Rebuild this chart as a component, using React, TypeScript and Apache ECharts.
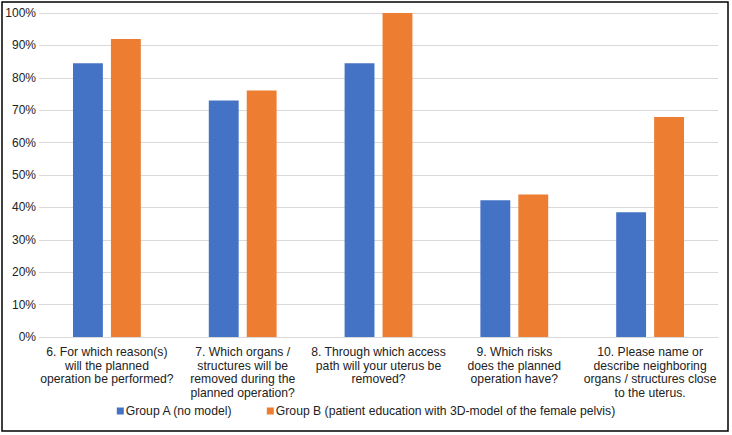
import React, { useEffect, useRef } from "react";
import * as echarts from "echarts";

const categories = [
  "6. For which reason(s)\nwill the planned\noperation be performed?",
  "7. Which organs /\nstructures will be\nremoved during the\nplanned operation?",
  "8. Through which access\npath will your uterus be\nremoved?",
  "9. Which risks\ndoes the planned\noperation have?",
  "10. Please name or\ndescribe neighboring\norgans / structures close\nto the uterus.",
];
const groupA = [84.5, 73.0, 84.5, 42.2, 38.5];
const groupB = [92.0, 76.1, 100, 44.0, 67.9];
const seriesNames = [
  "Group A (no model)",
  "Group B (patient education with 3D-model of the female pelvis)",
];

const FONT = "'Liberation Sans', Arial, sans-serif";

export default function App() {
  const ref = useRef<HTMLDivElement>(null);
  useEffect(() => {
    document.body.style.margin = "0";
    const chart = echarts.init(ref.current!, null, { renderer: "svg" });
    chart.setOption({
      animation: false,
      textStyle: { fontFamily: FONT },
      grid: { left: 39, right: 14, top: 13, bottom: 98, containLabel: false },
      legend: {
        bottom: 13,
        left: "center",
        itemWidth: 7,
        itemHeight: 7,
        itemGap: 34,
        icon: "rect",
        textStyle: { fontSize: 12.2, color: "#222", fontFamily: FONT, padding: [0, 0, 0, -3] },
        data: seriesNames,
      },
      xAxis: {
        type: "category",
        data: categories,
        axisLine: { lineStyle: { color: "#d9d9d9", width: 1 } },
        axisTick: { show: false },
        axisLabel: {
          interval: 0,
          fontSize: 12.2,
          lineHeight: 13.7,
          color: "#222",
          margin: 8,
          fontFamily: FONT,
        },
      },
      yAxis: {
        type: "value",
        min: 0,
        max: 100,
        interval: 10,
        axisLabel: {
          formatter: "{value}%",
          fontSize: 12,
          color: "#222",
          margin: 3,
          fontFamily: FONT,
        },
        axisLine: { show: false },
        axisTick: { show: false },
        splitLine: { lineStyle: { color: "#d9d9d9", width: 1 } },
      },
      series: [
        {
          name: seriesNames[0],
          type: "bar",
          data: groupA,
          barWidth: "22%",
          barGap: "27%",
          itemStyle: { color: "#4472C4" },
        },
        {
          name: seriesNames[1],
          type: "bar",
          data: groupB,
          barWidth: "22%",
          itemStyle: { color: "#ED7D31" },
        },
      ],
      graphic: [
        {
          type: "rect",
          shape: { x: 2, y: 2, width: 726, height: 429 },
          style: { fill: "none", stroke: "#000", lineWidth: 1.5 },
          silent: true,
        },
      ],
    });
    return () => chart.dispose();
  }, []);
  return <div ref={ref} style={{ width: 732, height: 435 }} />;
}
